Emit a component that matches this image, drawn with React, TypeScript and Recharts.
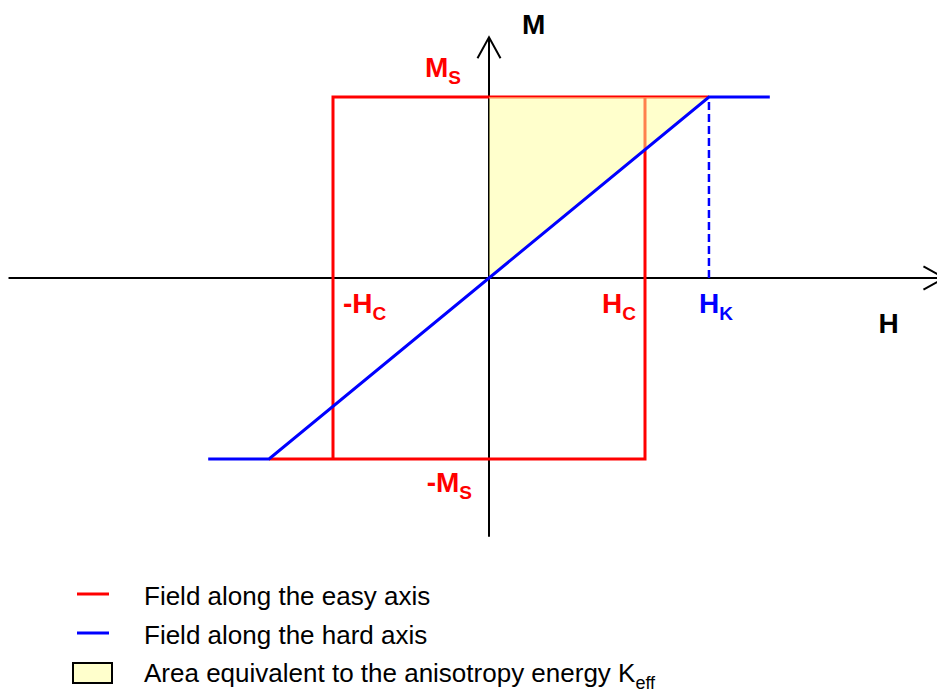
import React from 'react';
import {
  ComposedChart,
  Line,
  Area,
  XAxis,
  YAxis,
  ReferenceLine,
  ReferenceDot,
  Legend,
} from 'recharts';

// ---- values (in units of H_C and M_S) ----
const H_C = 1;
const M_S = 1;
const H_K = 1.41;
const H_END = 1.8;

const easyH = [-H_K, H_C, H_C, H_K, -H_C, -H_C];
const easyM = [-M_S, -M_S, M_S, M_S, M_S, -M_S];

const hardH = [-H_END, -H_K, H_K, H_END];
const hardM = [-M_S, -M_S, M_S, M_S];

const areaH = [0, H_K];
const areaLow = [0, M_S];
const areaHigh = [M_S, M_S];

const hkMarkH = [H_K, H_K];
const hkMarkM = [0, M_S];

const hAxisRange = [-3.08, 2.92];
const mAxisRange = [-1.43, 1.33];

const legendTexts = [
  'Field along the easy axis',
  'Field along the hard axis',
  'Area equivalent to the anisotropy energy K',
];
const legendSubs = ['', '', 'eff'];

// ---- tables built from arrays ----
const easyData = easyH.map((h, i) => ({ h, m: easyM[i] }));
const hardData = hardH.map((h, i) => ({ h, m: hardM[i] }));
const areaData = areaH.map((h, i) => ({ h, range: [areaLow[i], areaHigh[i]] }));
const hkData = hkMarkH.map((h, i) => ({ h, m: hkMarkM[i] }));

// ---- layout ----
const W = 937;
const HT = 695;
const OX = 489;
const OY = 278;
const PX_H = 156;
const PX_M = 181;
const xDomain = [-OX / PX_H, (W - OX) / PX_H];
const yDomain = [-(HT - OY) / PX_M, OY / PX_M];

const FONT = '"Liberation Sans", Arial, sans-serif';
const RED = '#FF0000';
const BLUE = '#0000FF';

const ArrowAxis = (props: any) => {
  const { x1, y1, x2, y2 } = props;
  const ang = Math.atan2(y2 - y1, x2 - x1);
  const len = 24;
  const a = 0.5;
  const ax1 = x2 - len * Math.cos(ang - a);
  const ay1 = y2 - len * Math.sin(ang - a);
  const ax2 = x2 - len * Math.cos(ang + a);
  const ay2 = y2 - len * Math.sin(ang + a);
  return (
    <g>
      <line x1={x1} y1={y1} x2={x2} y2={y2} stroke="#000" strokeWidth={2} />
      <polyline
        points={`${ax1},${ay1} ${x2},${y2} ${ax2},${ay2}`}
        fill="none"
        stroke="#000"
        strokeWidth={2}
      />
    </g>
  );
};

const makeLabel =
  (main: string, sub: string, color: string, dx: number, dy: number, anchor: string, size = 28) =>
  (props: any) => {
    const vb = props.viewBox || {};
    const x = (vb.x ?? 0) + (vb.width ?? 0) / 2 + dx;
    const y = (vb.y ?? 0) + (vb.height ?? 0) / 2 + dy;
    return (
      <text
        x={x}
        y={y}
        fill={color}
        fontFamily={FONT}
        fontWeight="bold"
        fontSize={size}
        textAnchor={anchor as any}
      >
        {main}
        {sub ? (
          <tspan fontSize={Math.round(size * 0.68)} dy={7}>
            {sub}
          </tspan>
        ) : null}
      </text>
    );
  };

const LegendContent = () => {
  const baselines = [35, 74, 112];
  return (
    <svg width={700} height={125} style={{ display: 'block' }}>
      <line x1={77} y1={24} x2={109} y2={24} stroke={RED} strokeWidth={3} />
      <line x1={77} y1={63} x2={109} y2={63} stroke={BLUE} strokeWidth={3} />
      <rect x={73} y={93} width={39} height={20} fill="#FFFFCC" stroke="#000" strokeWidth={2} />
      {legendTexts.map((t, i) => (
        <text key={i} x={144} y={baselines[i]} fontFamily={FONT} fontSize={26} fill="#000">
          {t}
          {legendSubs[i] ? (
            <tspan fontSize={18} dy={7}>
              {legendSubs[i]}
            </tspan>
          ) : null}
        </text>
      ))}
    </svg>
  );
};

export default function App() {
  return (
    <div style={{ position: 'absolute', left: 0, top: 0, width: W, height: HT, background: '#fff' }}>
      <ComposedChart width={W} height={HT} margin={{ top: 0, right: 0, bottom: 0, left: 0 }}>
        <XAxis
          type="number"
          dataKey="h"
          domain={xDomain}
          allowDataOverflow
          hide
        />
        <YAxis type="number" domain={yDomain} allowDataOverflow hide />

        <ReferenceLine
          segment={[
            { x: hAxisRange[0], y: 0 },
            { x: hAxisRange[1], y: 0 },
          ]}
          ifOverflow="visible"
          shape={ArrowAxis}
          zIndex={100}
        />
        <ReferenceLine
          segment={[
            { x: 0, y: mAxisRange[0] },
            { x: 0, y: mAxisRange[1] },
          ]}
          ifOverflow="visible"
          shape={ArrowAxis}
          zIndex={100}
        />

        <Line
          data={easyData}
          dataKey="m"
          name="Field along the easy axis"
          stroke={RED}
          strokeWidth={3}
          dot={false}
          activeDot={false}
          isAnimationActive={false}
          strokeLinejoin="miter"
          legendType="line"
          zIndex={200}
        />
        <Area
          data={areaData}
          dataKey="range"
          type="linear"
          fill="#FFFF99"
          fillOpacity={0.5}
          stroke="none"
          isAnimationActive={false}
          activeDot={false}
          legendType="rect"
          zIndex={300}
        />
        <Line
          data={hardData}
          dataKey="m"
          name="Field along the hard axis"
          stroke={BLUE}
          strokeWidth={3}
          dot={false}
          activeDot={false}
          isAnimationActive={false}
          strokeLinejoin="miter"
          legendType="line"
          zIndex={400}
        />
        <Line
          data={hkData}
          dataKey="m"
          stroke={BLUE}
          strokeWidth={2.5}
          strokeDasharray="8 4"
          dot={false}
          activeDot={false}
          isAnimationActive={false}
          legendType="none"
          zIndex={400}
        />

        <ReferenceDot x={0} y={M_S} r={0} fill="none" stroke="none" label={makeLabel('M', 'S', RED, -28, -20, 'end')} />
        <ReferenceDot x={0} y={-M_S} r={0} fill="none" stroke="none" label={makeLabel('-M', 'S', RED, -17, 33, 'end')} />
        <ReferenceDot x={-H_C} y={0} r={0} fill="none" stroke="none" label={makeLabel('-H', 'C', RED, 10, 35, 'start')} />
        <ReferenceDot x={H_C} y={0} r={0} fill="none" stroke="none" label={makeLabel('H', 'C', RED, -9, 35, 'end')} />
        <ReferenceDot x={H_K} y={0} r={0} fill="none" stroke="none" label={makeLabel('H', 'K', BLUE, -10, 35, 'start')} />
        <ReferenceDot x={0} y={mAxisRange[1]} r={0} fill="none" stroke="none" ifOverflow="visible" label={makeLabel('M', '', '#000', 33, -3, 'start')} />
        <ReferenceDot x={hAxisRange[1]} y={0} r={0} fill="none" stroke="none" ifOverflow="visible" label={makeLabel('H', '', '#000', -66, 55, 'start')} />

        <Legend
          layout="horizontal"
          verticalAlign="middle"
          align="center"
          content={<LegendContent />}
          wrapperStyle={{ position: 'absolute', left: 0, top: 570, width: 700, height: 125 }}
        />
      </ComposedChart>
    </div>
  );
}
